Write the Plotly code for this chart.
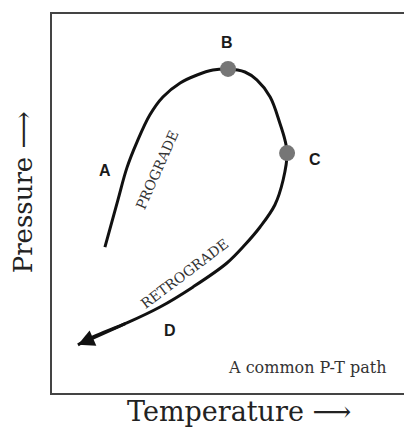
import plotly.graph_objects as go

# P-T path (temperature, pressure) in relative units 0-100
T_path = [14.7, 18.3, 20.8, 23.6, 27.2, 30.8, 35.6, 40.3, 44.7, 48.9, 53.6, 56.9, 60.6,
          63.3, 64.7, 65.3, 64.2, 61.9, 57.8, 53.6, 48.6, 39.2, 30.0, 20.8, 11.4, 7.2]
P_path = [38.5, 50.9, 59.4, 66.2, 73.4, 78.1, 81.8, 83.9, 85.2, 85.5, 84.7, 82.6, 78.1,
          71.2, 66.8, 63.3, 56.2, 49.6, 43.8, 39.1, 34.3, 28.0, 22.7, 18.5, 14.8, 12.7]

# highlighted stages
stage_labels = ["B", "C"]
stage_T = [48.9, 65.3]
stage_P = [85.5, 63.3]

serif = "DejaVu Serif"
sans = "Liberation Sans"

fig = go.Figure()
fig.add_trace(go.Scatter(x=T_path, y=P_path, mode="lines",
                         line=dict(color="#111111", width=3, shape="spline", smoothing=1.0),
                         hoverinfo="skip", showlegend=False))
fig.add_trace(go.Scatter(x=stage_T, y=stage_P, mode="markers", text=stage_labels,
                         marker=dict(size=16, color="#767676", line=dict(width=0)),
                         showlegend=False))

ann = []
# arrow head at the end of the retrograde path
ann.append(dict(x=T_path[-1], y=P_path[-1], ax=T_path[-3], ay=P_path[-3],
                xref="x", yref="y", axref="x", ayref="y", text="", showarrow=True,
                arrowhead=2, arrowsize=1.1, arrowwidth=3, arrowcolor="#111111", standoff=0))

# point letters
letter_font = dict(family=sans, size=16, color="#1a1a1a", weight="bold")
ann.append(dict(x=48.6, y=92.6, text="B", showarrow=False, font=letter_font))
ann.append(dict(x=73.1, y=61.5, text="C", showarrow=False, font=letter_font))
ann.append(dict(x=14.7, y=58.8, text="A", showarrow=False, font=letter_font))
ann.append(dict(x=32.8, y=16.6, text="D", showarrow=False, font=letter_font))

# path labels
ann.append(dict(x=29.2, y=58.8, text="PROGRADE", showarrow=False, textangle=-66,
                font=dict(family=serif, size=14, color="#333333")))
ann.append(dict(x=36.7, y=31.4, text="RETROGRADE", showarrow=False, textangle=-37,
                font=dict(family=serif, size=14, color="#333333")))
ann.append(dict(x=71.1, y=6.6, text="A common P-T path", showarrow=False,
                font=dict(family=serif, size=16, color="#333333")))

# axis titles
ann.append(dict(x=0.52, y=-0.05, xref="paper", yref="paper", text="Temperature \u27f6",
                showarrow=False, yanchor="middle",
                font=dict(family=serif, size=27, color="#222222")))
ann.append(dict(x=-0.08, y=0.53, xref="paper", yref="paper", text="Pressure \u27f6",
                showarrow=False, textangle=-90, xanchor="center", yanchor="middle",
                font=dict(family=serif, size=26, color="#222222")))

fig.update_layout(
    width=404, height=423,
    margin=dict(l=44, r=0, t=6, b=38),
    paper_bgcolor="white", plot_bgcolor="white",
    annotations=ann,
    xaxis=dict(range=[0, 100], showgrid=False, zeroline=False, showticklabels=False,
               ticks="", showline=True, mirror=True, linecolor="#444444", linewidth=2),
    yaxis=dict(range=[0, 100], showgrid=False, zeroline=False, showticklabels=False,
               ticks="", showline=True, mirror=False, linecolor="#444444", linewidth=2),
)

fig.write_html("out.html")
